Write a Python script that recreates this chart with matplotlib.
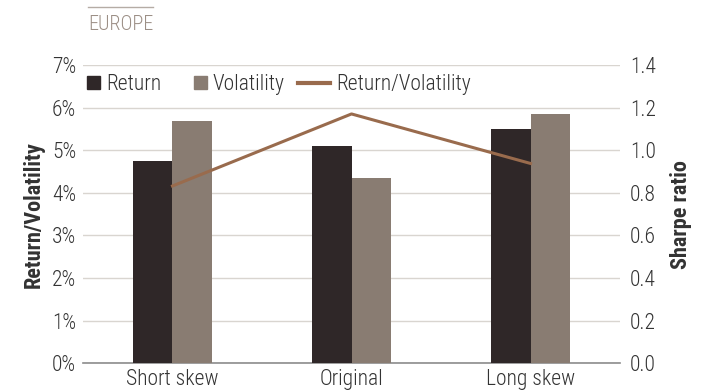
import matplotlib
matplotlib.use("Agg")
import matplotlib.pyplot as plt
import numpy as np
from matplotlib.lines import Line2D
from matplotlib.patches import Patch, Rectangle
from matplotlib.legend_handler import HandlerPatch

plt.rcParams['font.family'] = ['Roboto Condensed', 'DejaVu Sans Condensed', 'Roboto', 'DejaVu Sans']
plt.rcParams['font.stretch'] = 'condensed'
plt.rcParams['font.weight'] = 'light'

# data
categories = ["Short skew", "Original", "Long skew"]
ret = [4.75, 5.10, 5.50]
vol = [5.70, 4.35, 5.86]
sharpe = [0.833, 1.172, 0.939]

c_ret = "#2f2728"
c_vol = "#897c72"
c_line = "#996b4d"
c_grid = "#d9d5d0"
c_text = "#333333"

fig = plt.figure(figsize=(7.13, 3.91), dpi=100)
ax = fig.add_axes([0.1164, 0.0716, 0.7532, 0.7609])
ax2 = ax.twinx()

x = np.arange(len(categories))
w = 0.22
ax.bar(x - w / 2, [r / 100 for r in ret], w, color=c_ret, zorder=3)
ax.bar(x + w / 2, [v / 100 for v in vol], w, color=c_vol, zorder=3)
ax2.plot(x, sharpe, color=c_line, lw=2.2, zorder=4)

ax.set_xlim(-0.5, 2.5)
ax.set_ylim(0, 0.07)
ax.set_yticks(np.arange(0, 0.071, 0.01))
ax.set_yticklabels([f"{i}%" for i in range(8)])
ax2.set_ylim(0, 1.4)
ax2.set_yticks(np.arange(0, 1.41, 0.2))
ax2.set_yticklabels([f"{v:.1f}" for v in np.arange(0, 1.41, 0.2)])
ax.set_xticks(x)
ax.set_xticklabels(categories)

ax.grid(axis='y', color=c_grid, lw=1, zorder=0)
ax.set_axisbelow(True)
for a in (ax, ax2):
    for s in a.spines.values():
        s.set_visible(False)
    a.tick_params(length=0, labelsize=15.5, colors=c_text)
ax.spines['bottom'].set_visible(True)
ax.spines['bottom'].set_color("#8c8c8c")
ax.spines['bottom'].set_linewidth(1.2)
ax.tick_params(axis='y', pad=5)
ax.tick_params(axis='x', pad=4)
ax2.tick_params(axis='y', pad=7)

ax.set_ylabel("Return/Volatility", fontsize=16, fontweight='bold', color=c_text, labelpad=5)
ax2.set_ylabel("Sharpe ratio", fontsize=16, fontweight='bold', color=c_text, labelpad=10)


# square marker sitting at the right end of the handle box
def square(legend, orig_handle, xdescent, ydescent, width, height, fontsize):
    s = height
    return Rectangle((-xdescent + width - s, -ydescent), s, s)


handles = [Patch(color=c_ret), Patch(color=c_vol), Line2D([0], [0], color=c_line, lw=3)]
ax.legend(handles, ["Return", "Volatility", "Return/Volatility"], ncol=3, frameon=False,
          loc='upper left', bbox_to_anchor=(-0.037, 0.986), borderaxespad=0, borderpad=0.2,
          fontsize=15.5, handlelength=1.5, handleheight=0.55, handletextpad=0.3,
          columnspacing=0.6, labelcolor=c_text,
          handler_map={Patch: HandlerPatch(patch_func=square)})

fig.text(88 / 713, 1 - 25 / 391, "EUROPE", fontsize=14.5, color="#9c8f86", va='center')
fig.add_artist(Line2D([88 / 713, 153 / 713], [1 - 7 / 391, 1 - 7 / 391], color="#b5aca5", lw=1))

fig.savefig("out.png", dpi=100)
